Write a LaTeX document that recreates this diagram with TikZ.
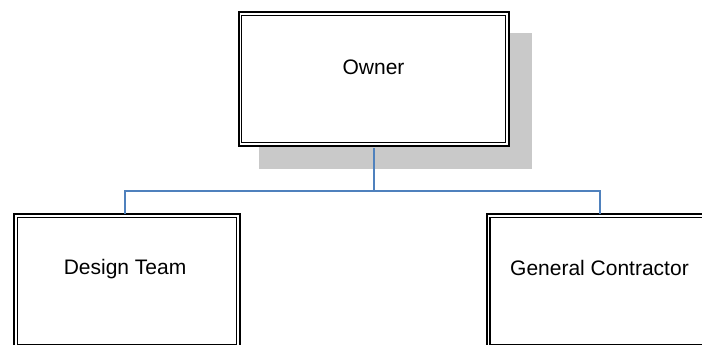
\documentclass[tikz,border=0pt]{standalone}
\usepackage{fontspec}
\setmainfont{Liberation Sans}
\definecolor{connblue}{RGB}{79,129,189}
\definecolor{shadowgray}{RGB}{201,201,201}
\tikzset{
  orgbox/.style={draw=black, fill=white, line width=2pt, rectangle,
    minimum width=#1, minimum height=134pt, inner sep=0pt},
  innerframe/.style={draw=black, line width=1.1pt},
  conn/.style={draw=connblue, line width=2pt},
  boxtext/.style={font=\fontsize{21}{25}\selectfont, text=black}
}
\begin{document}
\begin{tikzpicture}[x=1pt, y=-1pt]
  \useasboundingbox (0,0) rectangle (702,345);
  \clip (0,0) rectangle (702,345);
  \fill[white] (0,0) rectangle (702,345);

  % drop shadow behind the owner box
  \fill[shadowgray] (259,33) rectangle (532,169);

  % connector junction
  \coordinate (junction) at (373.5,191);

  % boxes
  \node[orgbox=270pt] (owner) at (373.5,79) {};
  \node[orgbox=225.7pt] (design) at (126.85,281) {};
  \node[orgbox=225.7pt] (gc) at (599.5,281) {};

  % connectors
  \draw[conn] ([yshift=-1pt]owner.south) -- (junction);
  \draw[conn] (junction) -| ([xshift=-1.8pt,yshift=-1pt]design.north);
  \draw[conn] (junction) -| ([yshift=-1pt]gc.north);

  % inner frames of the double borders
  \foreach \b in {owner,design,gc}{
    \draw[innerframe] ([shift={(4.3pt,-4.5pt)}]\b.north west) rectangle ([shift={(-4.3pt,4.5pt)}]\b.south east);
  }

  % labels
  \node[boxtext] (ownerlabel) at ([yshift=12pt]owner.center) {Owner};
  \node[boxtext] (designlabel) at ([xshift=-1.8pt,yshift=12pt]design.center) {Design Team};
  \node[boxtext] (gclabel) at ([yshift=13pt]gc.center) {General Contractor};
\end{tikzpicture}
\end{document}
